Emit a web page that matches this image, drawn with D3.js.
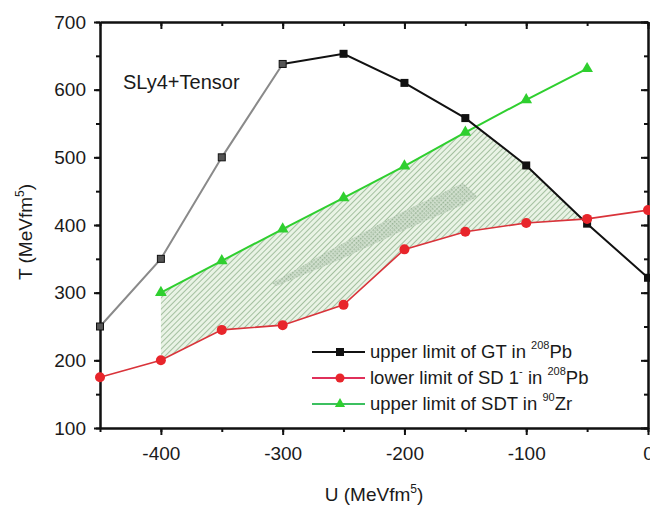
<!DOCTYPE html>
<html><head><meta charset="utf-8">
<script src="https://cdn.jsdelivr.net/npm/d3@7"></script>
<style>
body{margin:0;background:#fff;}
text{font-family:"Liberation Sans",Arial,sans-serif;fill:#1a1a1a;}
</style></head>
<body><svg id="c" width="650" height="506"></svg>
<script>
// ---- data ----
const uValues = [-450,-400,-350,-300,-250,-200,-150,-100,-50,0];
const gtUpper = [250,350,500,638,653,610,558,488,402,322];          // upper limit of GT in 208Pb
const sdLower = [175,200,245,252,282,364,390,403,409,422];          // lower limit of SD 1- in 208Pb
const sdtU = [-400,-350,-300,-250,-200,-150,-100,-50];
const sdtUpper = [300,347,394,440,487,537,585,631];                 // upper limit of SDT in 90Zr
const bandU = [-309,-262,-201,-152,-140,-154,-201,-255,-305];       // favoured (denser) region
const bandT = [314,362,420,462,442,428,392,347,310];
const xTicks = [-400,-300,-200,-100,0];
const yTicks = [100,200,300,400,500,600,700];
const labelText = "SLy4+Tensor";

const svg = d3.select("#c");
const L=100,R=648,T=22,B=428;
const x = d3.scaleLinear().domain([-450,0]).range([L,R]);
const y = d3.scaleLinear().domain([100,700]).range([B,T]);

// patterns
const defs = svg.append("defs");
const hp = defs.append("pattern").attr("id","hatch").attr("patternUnits","userSpaceOnUse")
  .attr("width",4).attr("height",4).attr("patternTransform","rotate(45)");
hp.append("rect").attr("width",4).attr("height",4).attr("fill","#e9f3e5");
hp.append("line").attr("x1",0).attr("y1",0).attr("x2",0).attr("y2",4).attr("stroke","#7fa47b").attr("stroke-width",1.3);
const cp = defs.append("pattern").attr("id","cross").attr("patternUnits","userSpaceOnUse")
  .attr("width",3).attr("height",3).attr("patternTransform","rotate(45)");
cp.append("rect").attr("width",3).attr("height",3).attr("fill","#cddccb");
cp.append("rect").attr("width",1.5).attr("height",1.5).attr("fill","#86a483");

// ---- hatched region between upper = min(SDT, GT) and lower = SD ----
function interp(xs, ys, u){
  for(let i=0;i<xs.length-1;i++){
    if(u>=xs[i]-1e-9 && u<=xs[i+1]+1e-9){
      const t=(u-xs[i])/(xs[i+1]-xs[i]); return ys[i]+t*(ys[i+1]-ys[i]);
    }
  }
  return NaN;
}
const upper = u => Math.min(interp(sdtU,sdtUpper,u), interp(uValues,gtUpper,u));
const lower = u => interp(uValues,sdLower,u);
function addRoots(pts, f){
  const out=[...pts];
  for(let i=0;i<pts.length-1;i++){
    const a=pts[i], b=pts[i+1], fa=f(a), fb=f(b);
    if(fa*fb<0) out.push(a+(b-a)*fa/(fa-fb));
  }
  return out.sort((p,q)=>p-q);
}
let brk = uValues.filter(u=>u>=-400 && u<=-50);
brk = addRoots(brk, u=>interp(sdtU,sdtUpper,u)-interp(uValues,gtUpper,u));
brk = addRoots(brk, u=>upper(u)-lower(u));
brk = brk.filter(u=>upper(u)-lower(u)>=-1e-6);
const poly = brk.map(u=>[x(u),y(upper(u))]).concat(brk.slice().reverse().map(u=>[x(u),y(lower(u))]));
svg.append("path").attr("d","M"+poly.map(p=>p.join(",")).join("L")+"Z").attr("fill","url(#hatch)");

const band = bandU.map((u,i)=>[x(u),y(bandT[i])]);
svg.append("path").attr("d",d3.line().curve(d3.curveLinearClosed)(band)).attr("fill","url(#cross)").attr("opacity",0.8);

// ---- axes ----
const minorX = d3.range(-450,1,50), minorY = d3.range(100,701,50);
function styleAxis(g){ g.select(".domain").attr("stroke","#111").attr("stroke-width",2);
  g.selectAll(".tick line").attr("stroke","#111").attr("stroke-width",2);
  g.selectAll("text").attr("font-size",19).attr("fill","#1a1a1a").attr("font-family","Liberation Sans, Arial, sans-serif"); }
svg.append("g").attr("transform",`translate(0,${B})`).call(d3.axisBottom(x).tickValues(minorX).tickSize(4).tickFormat("").tickSizeOuter(0)).call(styleAxis);
svg.append("g").attr("transform",`translate(0,${B})`).call(d3.axisBottom(x).tickValues(xTicks).tickSize(7).tickPadding(12).tickSizeOuter(0).tickFormat(d3.format("d"))).call(styleAxis)
  .selectAll("text").text(d=>d===0?"0":String(d).replace("−","-"));
svg.append("g").attr("transform",`translate(0,${T})`).call(d3.axisBottom(x).tickValues(minorX).tickSize(4).tickFormat("").tickSizeOuter(0)).call(styleAxis);
svg.append("g").attr("transform",`translate(0,${T})`).call(d3.axisBottom(x).tickValues(xTicks).tickSize(7).tickFormat("").tickSizeOuter(0)).call(styleAxis);
svg.append("g").attr("transform",`translate(${L},0)`).call(d3.axisLeft(y).tickValues(minorY).tickSize(4).tickFormat("").tickSizeOuter(0)).call(styleAxis);
svg.append("g").attr("transform",`translate(${L},0)`).call(d3.axisLeft(y).tickValues(yTicks).tickSize(6).tickPadding(8).tickSizeOuter(0)).call(styleAxis);
svg.append("g").attr("transform",`translate(${R},0)`).call(d3.axisRight(y).tickValues(minorY).tickSize(-4).tickFormat("").tickSizeOuter(0)).call(styleAxis);
svg.append("g").attr("transform",`translate(${R},0)`).call(d3.axisRight(y).tickValues(yTicks).tickSize(-7).tickFormat("").tickSizeOuter(0)).call(styleAxis);

// ---- series ----
const line = d3.line().x(d=>x(d[0])).y(d=>y(d[1]));
const gtPts = uValues.map((u,i)=>[u,gtUpper[i]]);
const sdPts = uValues.map((u,i)=>[u,sdLower[i]]);
const sdtPts = sdtU.map((u,i)=>[u,sdtUpper[i]]);
const green="#2fcf2f", red="#e8252b", black="#111";

svg.append("path").attr("d",line(sdtPts)).attr("fill","none").attr("stroke",green).attr("stroke-width",2);
svg.append("g").selectAll("path").data(sdtPts).join("path")
  .attr("transform",d=>`translate(${x(d[0])},${y(d[1])})`)
  .attr("d",d3.symbol(d3.symbolTriangle,60)).attr("fill",green);

const grayPart = gtPts.filter(d=>d[0]<=-300), blackPart = gtPts.filter(d=>d[0]>=-300);
svg.append("path").attr("d",line(grayPart)).attr("fill","none").attr("stroke","#8a8a8a").attr("stroke-width",2);
svg.append("path").attr("d",line(blackPart)).attr("fill","none").attr("stroke",black).attr("stroke-width",2);
svg.append("g").selectAll("rect").data(gtPts).join("rect")
  .attr("x",d=>x(d[0])-(d[0]<=-300?3.5:4)).attr("y",d=>y(d[1])-(d[0]<=-300?3.5:4))
  .attr("width",d=>d[0]<=-300?7:8).attr("height",d=>d[0]<=-300?7:8)
  .attr("fill",d=>d[0]<=-300?"#555":black).attr("stroke",d=>d[0]<=-300?"#111":"none").attr("stroke-width",1);

svg.append("path").attr("d",line(sdPts)).attr("fill","none").attr("stroke","#d9333a").attr("stroke-width",1.6);
svg.append("g").selectAll("circle").data(sdPts).join("circle")
  .attr("cx",d=>x(d[0])).attr("cy",d=>y(d[1])).attr("r",5).attr("fill",red);

// ---- labels ----
svg.append("text").attr("x",123).attr("y",89).attr("font-size",20).text(labelText);
svg.append("text").attr("x",374).attr("y",501).attr("text-anchor","middle").attr("font-size",19)
  .call(t=>{t.append("tspan").text("U (MeVfm");t.append("tspan").attr("font-size",12).attr("dy",-8).text("5");t.append("tspan").attr("dy",8).text(")");});
svg.append("text").attr("transform","translate(32,232) rotate(-90)").attr("text-anchor","middle").attr("font-size",19)
  .call(t=>{t.append("tspan").text("T (MeVfm");t.append("tspan").attr("font-size",12).attr("dy",-8).text("5");t.append("tspan").attr("dy",8).text(")");});

// ---- legend ----
const legendItems = [
  {pre:"upper limit of GT in ", sup:"208", post:"Pb", color:black, lc:black, sym:"square"},
  {pre:"lower limit of SD 1", sup1:"-", mid:" in ", sup:"208", post:"Pb", color:red, lc:"#e0305a", sym:"circle"},
  {pre:"upper limit of SDT in ", sup:"90", post:"Zr", color:green, lc:"#3cc060", sym:"triangle"}
];
const lgY=[352,378,404];
legendItems.forEach((it,i)=>{
  const g=svg.append("g").attr("transform",`translate(0,${lgY[i]})`);
  g.append("line").attr("x1",312).attr("x2",365).attr("y1",0).attr("y2",0).attr("stroke",it.lc).attr("stroke-width",2);
  if(it.sym==="square") g.append("rect").attr("x",336).attr("y",-4).attr("width",8).attr("height",8).attr("fill",it.color);
  if(it.sym==="circle") g.append("circle").attr("cx",340).attr("cy",0).attr("r",4.5).attr("fill",it.color);
  if(it.sym==="triangle") g.append("path").attr("transform","translate(340,0)").attr("d",d3.symbol(d3.symbolTriangle,45)).attr("fill",it.color);
  const t=g.append("text").attr("x",370).attr("y",6).attr("font-size",18.5);
  t.append("tspan").text(it.pre);
  if(it.sup1){ t.append("tspan").attr("font-size",11).attr("dy",-9).text(it.sup1); t.append("tspan").attr("dy",9).text(it.mid); }
  t.append("tspan").attr("font-size",11).attr("dy",-9).text(it.sup);
  t.append("tspan").attr("dy",9).text(it.post);
});
</script></body></html>
